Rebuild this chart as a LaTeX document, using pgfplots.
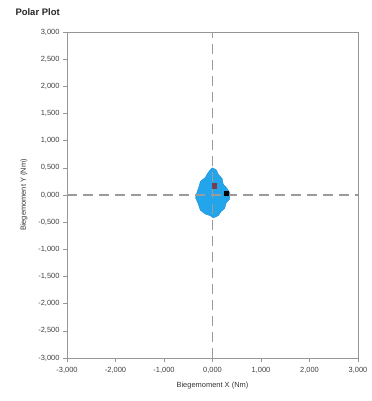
\documentclass[border=0pt]{standalone}
\usepackage{fontspec}
\setmainfont{Liberation Sans}
\usepackage{pgfplots}
\pgfplotsset{compat=1.18}
\definecolor{blobblue}{RGB}{35,165,235}
\definecolor{blobedge}{RGB}{30,140,215}
\definecolor{frame}{RGB}{150,150,150}
\definecolor{dashgray}{RGB}{155,155,155}
\begin{document}
\begin{tikzpicture}[x=1bp,y=1bp]
\path[use as bounding box] (-67,-43) rectangle (305,358);
\node[anchor=west,font=\bfseries\fontsize{9.5}{11}\selectfont, text=black!85] at (-55,346) {Polar Plot};
\begin{axis}[
  at={(0,0)}, anchor=south west,
  scale only axis, width=291bp, height=326bp,
  xmin=-3, xmax=3, ymin=-3, ymax=3,
  xtick={-3,-2,...,3},
  ytick={-3,-2.5,...,3},
  /pgf/number format/.cd, fixed, fixed zerofill, precision=3, use comma, assume math mode=true,
  /pgfplots/.cd,
  tick label style={font=\fontsize{7.5}{9}\selectfont, text=black!75},
  label style={font=\fontsize{7.5}{9}\selectfont, text=black!80},
  xlabel={Biegemoment X (Nm)},
  ylabel={Biegemoment Y (Nm)},
  xlabel style={yshift=-2bp},
  ylabel style={yshift=4bp},
  xticklabel style={yshift=-2bp},
  axis line style={frame, line width=0.8bp},
  tick style={frame, line width=0.6bp},
  tick align=outside, major tick length=4bp,
  xtick pos=bottom, ytick pos=left,
]
\addplot[fill=blobblue, draw=blobedge, line width=0.4bp] coordinates {
(0.0,0.5)(0.08,0.46)(0.12,0.38)(0.2,0.3)(0.22,0.2)(0.3,0.12)(0.36,0.04)
(0.35,-0.08)(0.28,-0.15)(0.25,-0.25)(0.18,-0.3)(0.12,-0.38)(0.02,-0.42)
(-0.05,-0.38)(-0.15,-0.35)(-0.25,-0.28)(-0.3,-0.15)(-0.35,-0.05)(-0.32,0.05)
(-0.28,0.15)(-0.25,0.25)(-0.15,0.32)(-0.1,0.4)(-0.05,0.46)} -- cycle;
\addplot[dashgray, line width=1.4bp, dash pattern=on 10bp off 6bp] coordinates {(-3,0)(3,0)};
\addplot[dashgray, line width=1.4bp, dash pattern=on 10bp off 6bp] coordinates {(0,-3)(0,3)};
\addplot[only marks, mark=square*, mark size=2.2bp, color={rgb,255:red,120;green,60;blue,80}] coordinates {(0.04,0.17)};
\addplot[only marks, mark=square*, mark size=2.2bp, color=black] coordinates {(0.28,0.03)};
\end{axis}
\end{tikzpicture}
\end{document}
